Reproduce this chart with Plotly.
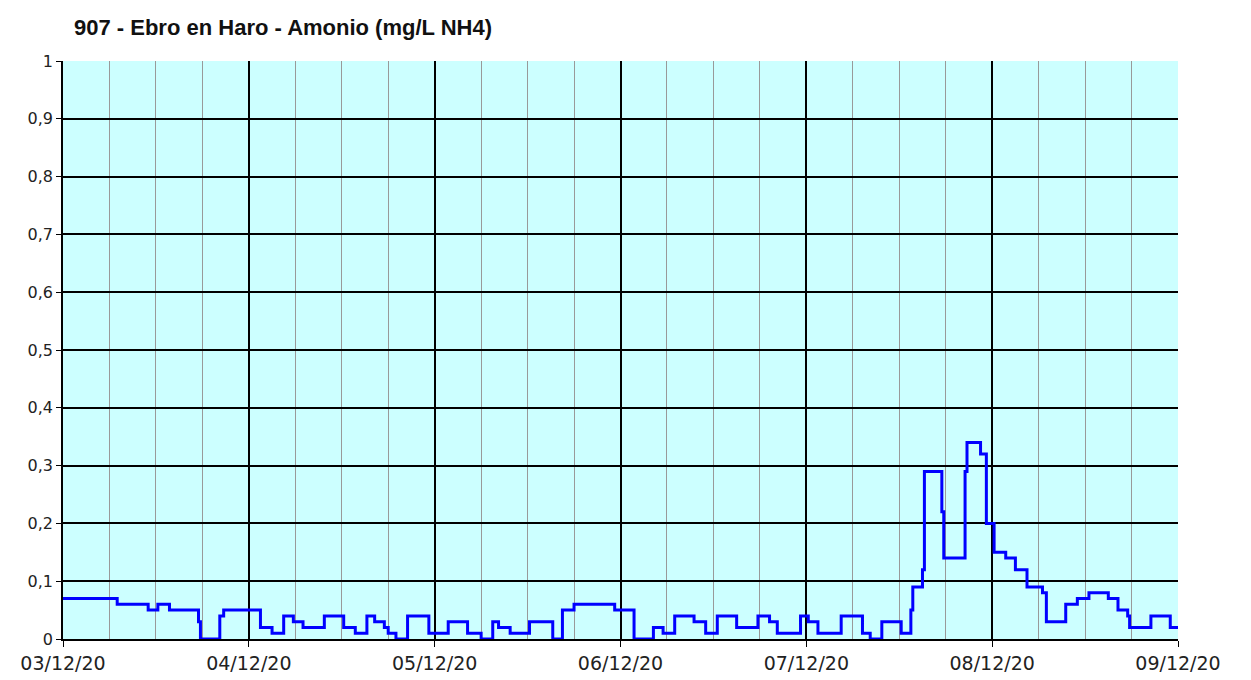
import plotly.graph_objects as go
import pandas as pd

title_text = "907 - Ebro en Haro - Amonio (mg/L NH4)"
start_date = "2020-12-03 00:00"
end_date = "2020-12-09 00:00"

# hours since 03/12/20 00:00 at which the measured value changes
change_hours = [0, 7, 11, 12.25, 13.75, 17.5, 17.75, 20.25, 20.75, 25.5, 27, 28.5, 29.75, 31,
                33.75, 36.25, 37.75, 39.25, 40.25, 41.5, 42, 43, 44.5, 47.25, 49.75, 52.25,
                54, 55.5, 56.25, 57.75, 60.25, 63.25, 64.5, 66, 71.25, 73.75, 76.25, 77.5,
                79, 81.5, 83, 84.5, 87, 89.75, 91.25, 92.25, 95.25, 96.25, 97.5, 100.5,
                103.25, 104.25, 105.75, 108.25, 109.5, 109.75, 111, 111.25, 113.5, 113.75,
                116.5, 116.75, 118.5, 119.25, 120.25, 121.75, 123, 124.5, 126.5, 127,
                129.5, 131, 132.5, 135, 136.25, 137.5, 137.75, 140.5, 143, 144]
values = [0.07, 0.06, 0.05, 0.06, 0.05, 0.03, 0.0, 0.04, 0.05, 0.02, 0.01, 0.04, 0.03, 0.02,
          0.04, 0.02, 0.01, 0.04, 0.03, 0.02, 0.01, 0.0, 0.04, 0.01, 0.03, 0.01,
          0.0, 0.03, 0.02, 0.01, 0.03, 0.0, 0.05, 0.06, 0.05, 0.0, 0.02, 0.01,
          0.04, 0.03, 0.01, 0.04, 0.02, 0.04, 0.03, 0.01, 0.04, 0.03, 0.01, 0.04,
          0.01, 0.0, 0.03, 0.01, 0.05, 0.09, 0.12, 0.29, 0.22, 0.14,
          0.29, 0.34, 0.32, 0.20, 0.15, 0.14, 0.12, 0.09, 0.08, 0.03,
          0.06, 0.07, 0.08, 0.07, 0.05, 0.04, 0.02, 0.04, 0.02, 0.02]

base = pd.Timestamp(start_date)
times = [base + pd.Timedelta(hours=h) for h in change_hours]

fig = go.Figure()
fig.add_trace(go.Scatter(
    x=times, y=values, mode="lines", line=dict(color="#0000FF", width=3, shape="hv"),
    showlegend=False, hoverinfo="skip"))

x_tick_font = dict(family="DejaVu Sans", size=19, color="#222222")
y_tick_font = dict(family="DejaVu Sans", size=16, color="#222222")

fig.update_layout(
    width=1235, height=672,
    margin=dict(l=55, r=65, t=53, b=41, autoexpand=False),
    paper_bgcolor="white",
    plot_bgcolor="#CCFFFF",
    separators=",.",
    annotations=[dict(text="<b>" + title_text + "</b>", xref="paper", yref="paper",
                      x=0.0, y=1.0, xanchor="left", yanchor="middle",
                      xshift=9, yshift=34, showarrow=False,
                      font=dict(family="Liberation Sans", size=22, color="#111111"))],
    xaxis=dict(
        type="date", range=[start_date, end_date],
        dtick=86400000, tick0=start_date, tickformat="%d/%m/%y",
        showgrid=True, gridcolor="#000000", gridwidth=1.5,
        minor=dict(dtick=6 * 3600000, showgrid=True, gridcolor="#999999", gridwidth=1.3),
        showline=True, linecolor="#000000", linewidth=1.5,
        ticks="outside", ticklen=6, tickcolor="#000000",
        tickfont=x_tick_font, zeroline=False, fixedrange=True, automargin=False),
    yaxis=dict(
        range=[0, 1], dtick=0.1, tick0=0,
        showgrid=True, gridcolor="#000000", gridwidth=1.5,
        showline=True, linecolor="#000000", linewidth=1.5,
        ticks="outside", ticklen=5, tickcolor="#000000",
        tickfont=y_tick_font, zeroline=False, fixedrange=True, automargin=False),
)

fig.write_html("out.html")
